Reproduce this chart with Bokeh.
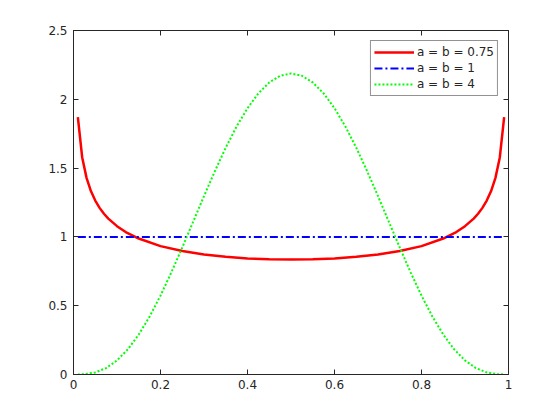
from bokeh.plotting import figure
from bokeh.models import LinearAxis, FixedTicker, Range1d, Legend, LegendItem
from bokeh.embed import file_html
from bokeh.resources import INLINE

# Beta pdf a=b=0.75
x_red = [0.01, 0.02, 0.03, 0.04, 0.05, 0.06, 0.07, 0.08, 0.10, 0.12, 0.15, 0.20, 0.25, 0.30, 0.35, 0.40, 0.45, 0.50,
         0.55, 0.60, 0.65, 0.70, 0.75, 0.80, 0.85, 0.88, 0.90, 0.92, 0.93, 0.94, 0.95, 0.96, 0.97, 0.98, 0.99]
y_red = [1.871, 1.577, 1.429, 1.333, 1.264, 1.211, 1.168, 1.133, 1.078, 1.035, 0.988, 0.933, 0.897, 0.872, 0.855, 0.843, 0.837, 0.835,
         0.837, 0.843, 0.855, 0.872, 0.897, 0.933, 0.988, 1.035, 1.078, 1.133, 1.168, 1.211, 1.264, 1.333, 1.429, 1.577, 1.871]

# a=b=1
x_blue = [0.01, 0.99]
y_blue = [1.0, 1.0]

# a=b=4
x_green = [0.01, 0.025, 0.05, 0.075, 0.10, 0.125, 0.15, 0.175, 0.20, 0.225, 0.25, 0.275, 0.30, 0.325, 0.35, 0.375,
           0.40, 0.425, 0.45, 0.475, 0.50, 0.525, 0.55, 0.575, 0.60, 0.625, 0.65, 0.675, 0.70, 0.725, 0.75, 0.775,
           0.80, 0.825, 0.85, 0.875, 0.90, 0.925, 0.95, 0.975, 0.99]
y_green = [0.0001, 0.0020, 0.0150, 0.0467, 0.1021, 0.1832, 0.2902, 0.4213, 0.5734, 0.7423, 0.9229, 1.1095, 1.2965, 1.4780, 1.6484, 1.8025,
           1.9354, 2.0431, 2.1225, 2.1711, 2.1875, 2.1711, 2.1225, 2.0431, 1.9354, 1.8025, 1.6484, 1.4780, 1.2965, 1.1095, 0.9229, 0.7423,
           0.5734, 0.4213, 0.2902, 0.1832, 0.1021, 0.0467, 0.0150, 0.0020, 0.0001]

x_ticks = [0, 0.2, 0.4, 0.6, 0.8, 1]
x_labels = ["0", "0.2", "0.4", "0.6", "0.8", "1"]
y_ticks = [0, 0.5, 1, 1.5, 2, 2.5]
y_labels = ["0", "0.5", "1", "1.5", "2", "2.5"]
series_labels = ["a = b = 0.75", "a = b = 1", "a = b = 4"]

FONT = "DejaVu Sans"
TXT = "#262626"

p = figure(width=552, height=412, output_backend="svg", toolbar_location=None,
           x_range=Range1d(0, 1), y_range=Range1d(0, 2.5),
           min_border_left=73, min_border_right=44, min_border_top=30, min_border_bottom=38)
p.xgrid.visible = False
p.ygrid.visible = False
p.outline_line_color = TXT
p.outline_line_width = 1
p.background_fill_color = "white"
p.border_fill_color = "white"

def style(ax, ticks, labels, show_labels=True):
    ax.ticker = FixedTicker(ticks=ticks)
    ax.major_label_overrides = {t: l for t, l in zip(ticks, labels)}
    ax.major_tick_in = 5
    ax.major_tick_out = 0
    ax.minor_tick_in = 0
    ax.minor_tick_out = 0
    ax.axis_line_color = TXT
    ax.major_tick_line_color = TXT
    ax.major_label_text_font = FONT
    ax.major_label_text_font_size = "12px"
    ax.major_label_text_color = TXT
    if not show_labels:
        ax.major_label_text_alpha = 0
        ax.major_label_text_font_size = "1px"

style(p.xaxis[0], x_ticks, x_labels)
style(p.yaxis[0], y_ticks, y_labels)
p.xaxis[0].major_label_standoff = 5
p.yaxis[0].major_label_standoff = 6

top = LinearAxis()
style(top, x_ticks, x_labels, show_labels=False)
p.add_layout(top, "above")
right = LinearAxis()
style(right, y_ticks, y_labels, show_labels=False)
p.add_layout(right, "right")

r1 = p.line(x_red, y_red, line_color="#ff0000", line_width=2.5)
r2 = p.line(x_blue, y_blue, line_color="#0000ff", line_width=2, line_dash="8 3 2 3")
r3 = p.line(x_green, y_green, line_color="#00ff00", line_width=2, line_dash="2 2")

legend = Legend(items=[LegendItem(label=series_labels[0], renderers=[r1]),
                       LegendItem(label=series_labels[1], renderers=[r2]),
                       LegendItem(label=series_labels[2], renderers=[r3])],
                location="top_right")
legend.margin = 10
legend.padding = 3
legend.spacing = 0
legend.glyph_width = 40
legend.glyph_height = 16
legend.label_height = 16
legend.label_standoff = 3
legend.label_text_font = FONT
legend.label_text_font_size = "12px"
legend.label_text_color = TXT
legend.border_line_color = TXT
legend.border_line_width = 1
legend.background_fill_alpha = 1
p.add_layout(legend, "center")

open("out.html", "w").write(file_html(p, INLINE))
